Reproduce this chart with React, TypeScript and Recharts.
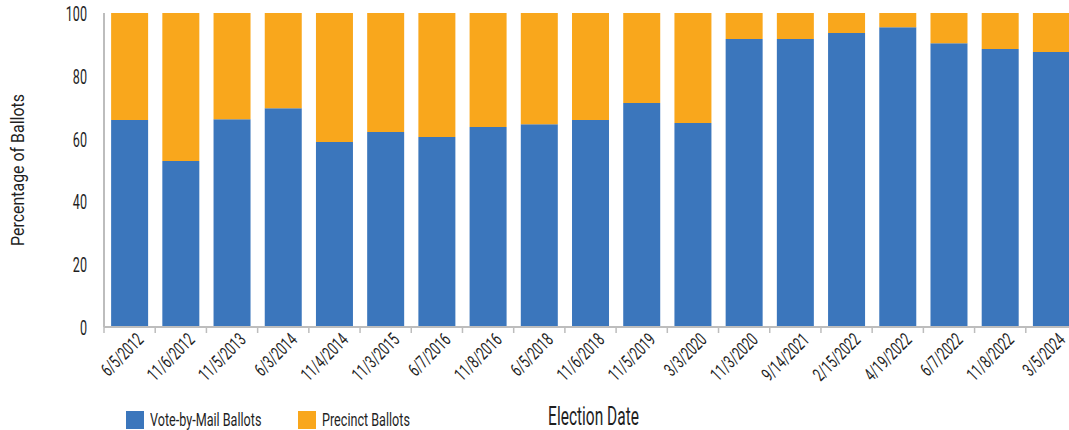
import React from "react";
import { BarChart, Bar, XAxis, YAxis, Legend } from "recharts";

const dates = [
	"6/5/2012", "11/6/2012", "11/5/2013", "6/3/2014", "11/4/2014", "11/3/2015",
	"6/7/2016", "11/8/2016", "6/5/2018", "11/6/2018", "11/5/2019", "3/3/2020",
	"11/3/2020", "9/14/2021", "2/15/2022", "4/19/2022", "6/7/2022", "11/8/2022",
	"3/5/2024",
];

const mailPct = [
	65.9, 52.9, 66.2, 69.7, 58.9, 62.1, 60.5, 63.7, 64.6, 65.9, 71.3, 65.0,
	91.7, 91.7, 93.6, 95.5, 90.4, 88.5, 87.6,
];

const precinctPct = [
	34.1, 47.1, 33.8, 30.3, 41.1, 37.9, 39.5, 36.3, 35.4, 34.1, 28.7, 35.0,
	8.3, 8.3, 6.4, 4.5, 9.6, 11.5, 12.4,
];

const yTicks = [0, 20, 40, 60, 80, 100];

const data = dates.map((date, i) => ({
	date,
	mail: mailPct[i],
	precinct: precinctPct[i],
}));

// no condensed web font offline, so Roboto gets squeezed horizontally
const FONT = "Roboto, sans-serif";
const BLUE = "#3b76bc";
const ORANGE = "#f9a71c";
const AXIS = "#bdbdbd";
const INK = "#1f1f1f";

const PctTick = (props: any) => {
	const { x, y, payload } = props;
	return (
		<text
			transform={`translate(${x},${y + 8}) scale(0.6,1)`}
			textAnchor="end"
			fontFamily={FONT}
			fontSize={21}
			fill={INK}
		>
			{payload.value}
		</text>
	);
};

// rotated date labels plus tick marks between categories
const DateTick = (props: any) => {
	const { x, y, payload, width } = props;
	const band = width / dates.length;
	return (
		<g>
			<line x1={x - band / 2} x2={x - band / 2} y1={y} y2={y + 6} stroke={AXIS} strokeWidth={1.5} />
			<text
				transform={`translate(${x + 15},${y + 14}) rotate(-45) scale(0.66,1)`}
				textAnchor="end"
				fontFamily={FONT}
				fontSize={18.5}
				fill={INK}
			>
				{payload.value}
			</text>
		</g>
	);
};

const XTitle = (props: any) => {
	const { viewBox } = props;
	const cx = viewBox.x + viewBox.width / 2 + 3;
	const by = viewBox.y + viewBox.height - 5;
	return (
		<text
			transform={`translate(${cx},${by}) scale(0.62,1)`}
			textAnchor="middle"
			fontFamily={FONT}
			fontSize={25}
			fill={INK}
		>
			Election Date
		</text>
	);
};

const YTitle = (props: any) => {
	const { viewBox } = props;
	const cy = viewBox.y + viewBox.height / 2;
	return (
		<text
			transform={`translate(24,${cy}) rotate(-90) scale(0.84,1)`}
			textAnchor="middle"
			fontFamily={FONT}
			fontSize={19}
			fill={INK}
		>
			Percentage of Ballots
		</text>
	);
};

const LegendBox = () => {
	const items = [
		{ label: "Vote-by-Mail Ballots", color: BLUE, left: 0 },
		{ label: "Precinct Ballots", color: ORANGE, left: 172 },
	];
	return (
		<div style={{ position: "relative", height: 0 }}>
			{items.map((it) => (
				<div key={it.label} style={{ position: "absolute", left: it.left, top: 0 }}>
					<span
						style={{
							position: "absolute",
							left: 0,
							top: 0,
							width: 18,
							height: 18,
							background: it.color,
						}}
					/>
					<span
						style={{
							position: "absolute",
							left: 24,
							top: -2,
							lineHeight: "22px",
							whiteSpace: "nowrap",
							fontFamily: FONT,
							fontSize: 18,
							color: INK,
							transform: "scaleX(0.7)",
							transformOrigin: "left center",
						}}
					>
						{it.label}
					</span>
				</div>
			))}
		</div>
	);
};

export default function App() {
	return (
		<div
			style={{
				position: "absolute",
				left: 0,
				top: 0,
				width: 1069,
				height: 430,
				overflow: "hidden",
				background: "#fff",
			}}
		>
			<BarChart
				width={1080}
				height={430}
				data={data}
				margin={{ top: 13, right: 3, left: 0, bottom: 0 }}
				barCategoryGap="13.9%"
			>
				<XAxis
					dataKey="date"
					interval={0}
					height={103}
					tickLine={false}
					tickSize={0}
					tickMargin={0}
					axisLine={{ stroke: AXIS, strokeWidth: 2 }}
					tick={<DateTick />}
					label={<XTitle />}
				/>
				<YAxis
					domain={[0, 100]}
					ticks={yTicks}
					width={104}
					tickLine={false}
					tickSize={0}
					tickMargin={17}
					axisLine={{ stroke: AXIS, strokeWidth: 2 }}
					tick={<PctTick />}
					label={<YTitle />}
				/>
				<Legend
					content={<LegendBox />}
					wrapperStyle={{ left: 126, top: 411, width: 330, height: 0 }}
				/>
				<Bar dataKey="mail" name="Vote-by-Mail Ballots" stackId="a" fill={BLUE} isAnimationActive={false} />
				<Bar dataKey="precinct" name="Precinct Ballots" stackId="a" fill={ORANGE} isAnimationActive={false} />
			</BarChart>
		</div>
	);
}
